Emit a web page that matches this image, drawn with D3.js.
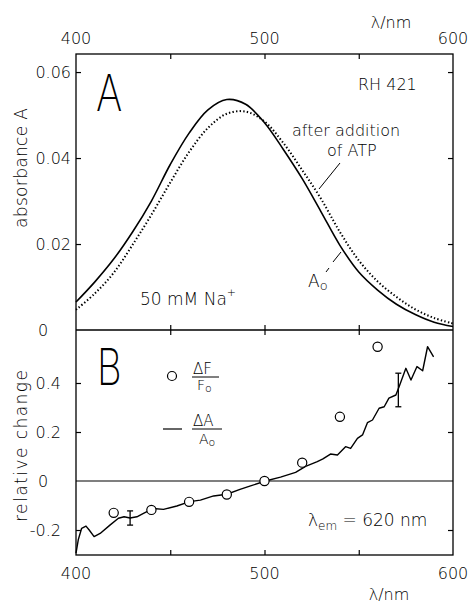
<!DOCTYPE html>
<html>
<head>
<script src="https://cdnjs.cloudflare.com/ajax/libs/d3/7.8.5/d3.min.js"></script>
<style>
  body { margin: 0; background: #fff; }
  svg text { font-family: "DejaVu Sans", sans-serif; font-weight: 300; fill: #000; }
  .letter { font-family: Inter, "DejaVu Sans", sans-serif; font-weight: 200; }
  .frame { stroke: #000; stroke-width: 1.3px; fill: none; }
  .tick line { stroke: #000; stroke-width: 1.2px; }
</style>
</head>
<body>
<div id="chart"></div>
<script>
// panel A: absorbance spectra
const lambdaA = [400, 410, 420, 430, 440, 450, 460, 470, 480, 490, 500,
                 510, 520, 530, 540, 550, 560, 570, 580, 590, 600];
const absSolid = [0.0065, 0.0112, 0.0165, 0.0228, 0.0300, 0.0385, 0.0458, 0.0512, 0.0536, 0.0525, 0.0482,
                  0.0420, 0.0352, 0.0275, 0.0197, 0.0135, 0.0093, 0.0060, 0.0036, 0.0018, 0.0008];
const absDotted = [0.0047, 0.0085, 0.0133, 0.0198, 0.0268, 0.0343, 0.0414, 0.0470, 0.0503, 0.0508, 0.0485,
                   0.0435, 0.0372, 0.0305, 0.0228, 0.0162, 0.0113, 0.0077, 0.0048, 0.0028, 0.0015];

// panel B: relative change
const dALambda = [400, 401.2, 403, 405.3, 407, 409.6, 412.8, 418, 422.5, 425.5, 428.7, 432.3, 435.8, 441,
                  446.4, 453.5, 460.3, 466, 473, 480, 487, 492.6, 500.5, 508.5, 516.5, 521.8, 528, 531,
                  535, 538.7, 543, 545.7, 549.3, 552, 554.6, 557.3, 560.8, 563.5, 566, 569.7, 571.4,
                  575, 577.7, 580.9, 583.9, 586.5, 589.7];
const dAValue = [-0.294, -0.24, -0.193, -0.184, -0.2, -0.227, -0.214, -0.18, -0.152, -0.146, -0.151, -0.146,
                 -0.132, -0.112, -0.116, -0.102, -0.084, -0.078, -0.061, -0.054, -0.034, -0.02, 0, 0.016,
                 0.035, 0.06, 0.079, 0.09, 0.11, 0.106, 0.14, 0.133, 0.174, 0.188, 0.238, 0.249, 0.297,
                 0.303, 0.338, 0.351, 0.385, 0.46, 0.412, 0.467, 0.45, 0.548, 0.507];
const fLambda = [420, 440, 460, 480, 500, 520, 540, 560];
const fValue = [-0.13, -0.118, -0.085, -0.055, 0, 0.075, 0.262, 0.548];
const errLambda = [428.7, 571];
const errLow = [-0.18, 0.303];
const errHigh = [-0.122, 0.44];

const xTicks = [400, 500, 600];
const xMinor = [450, 500, 550];
const aTicks = [0.02, 0.04, 0.06];
const aLabels = ["0", "0.02", "0.04", "0.06"];
const bTicks = [-0.2, 0.2, 0.4];
const bLabels = ["-0.2", "0", "0.2", "0.4"];

const W = 471, H = 605;
const svg = d3.select("#chart").append("svg").attr("width", W).attr("height", H);

const pLeft = 76, pRight = 453, pTop = 54, pMid = 330, pBottom = 555;
const x = d3.scaleLinear().domain([400, 600]).range([pLeft, pRight]);
const yA = d3.scaleLinear().domain([0, 0.0642]).range([pMid, pTop]);
const yB = d3.scaleLinear().domain([-0.302, 0.6163]).range([pBottom, pMid]);

// ticks (inward) via axes
function axis(gen, tr) {
  const g = svg.append("g").attr("transform", tr).call(gen);
  g.select(".domain").remove();
  return g;
}
axis(d3.axisLeft(yA).tickValues(aTicks).tickSize(-5).tickFormat(""), `translate(${pLeft},0)`);
axis(d3.axisRight(yA).tickValues(aTicks).tickSize(-5).tickFormat(""), `translate(${pRight},0)`);
axis(d3.axisLeft(yB).tickValues(bTicks).tickSize(-5).tickFormat(""), `translate(${pLeft},0)`);
axis(d3.axisRight(yB).tickValues(bTicks).tickSize(-5).tickFormat(""), `translate(${pRight},0)`);
axis(d3.axisTop(x).tickValues([450, 500, 550]).tickSize(-5).tickFormat(""), `translate(0,${pTop})`);
axis(d3.axisBottom(x).tickValues([450, 500, 550]).tickSize(-5).tickFormat(""), `translate(0,${pBottom})`);
axis(d3.axisBottom(x).tickValues(xMinor).tickSize(5).tickFormat(""), `translate(0,${pMid})`);
axis(d3.axisTop(x).tickValues(xMinor).tickSize(5).tickFormat(""), `translate(0,${pMid})`);

// frames
svg.append("rect").attr("class", "frame")
  .attr("x", pLeft).attr("y", pTop).attr("width", pRight - pLeft).attr("height", pBottom - pTop);
svg.append("line").attr("class", "frame")
  .attr("x1", pLeft).attr("x2", pRight).attr("y1", pMid).attr("y2", pMid);
svg.append("line").attr("stroke", "#000").attr("stroke-width", 1.1)
  .attr("x1", pLeft).attr("x2", pRight).attr("y1", yB(0)).attr("y2", yB(0));

// x labels
[pTop - 10, pBottom + 24].forEach(yy => {
  svg.selectAll(null).data(xTicks).enter().append("text")
    .attr("x", d => x(d)).attr("y", yy)
    .attr("text-anchor", "middle").attr("font-size", 16)
    .text(d => d);
});
svg.append("text").attr("x", 391).attr("y", 28).attr("text-anchor", "middle")
  .attr("font-size", 16).text("λ/nm");
svg.append("text").attr("x", 389).attr("y", 600).attr("text-anchor", "middle")
  .attr("font-size", 16).text("λ/nm");

// y labels
const aVals = [0, 0.02, 0.04, 0.06];
svg.selectAll(null).data(aVals).enter().append("text")
  .attr("x", d => d === 0 ? 38 : 71)
  .attr("y", d => yA(d) + 6)
  .attr("text-anchor", d => d === 0 ? "start" : "end")
  .attr("font-size", 16)
  .text((d, i) => aLabels[i]);
const bVals = [-0.2, 0, 0.2, 0.4];
svg.selectAll(null).data(bVals).enter().append("text")
  .attr("x", d => d === 0 ? 38 : 61)
  .attr("y", d => yB(d) + 6)
  .attr("text-anchor", d => d === 0 ? "start" : "end")
  .attr("font-size", 16)
  .text((d, i) => bLabels[i]);

svg.append("text").attr("transform", "translate(27,168) rotate(-90)")
  .attr("text-anchor", "middle").attr("font-size", 17)
  .attr("textLength", 120).attr("lengthAdjust", "spacing")
  .text("absorbance A");
svg.append("text").attr("transform", "translate(27,446) rotate(-90)")
  .attr("text-anchor", "middle").attr("font-size", 17)
  .attr("textLength", 152).attr("lengthAdjust", "spacing")
  .text("relative change");

// panel letters
svg.append("text").attr("class", "letter").attr("transform", "translate(96,111) scale(0.8,1)")
  .attr("font-size", 50).text("A");
svg.append("text").attr("class", "letter").attr("transform", "translate(97,385) scale(0.75,1)")
  .attr("font-size", 51).text("B");

// curves A
const lineA = d3.line().x((d, i) => x(lambdaA[i])).y(d => yA(d)).curve(d3.curveCatmullRom);
svg.append("path").datum(absSolid).attr("d", lineA)
  .attr("fill", "none").attr("stroke", "#000").attr("stroke-width", 1.6);
svg.append("path").datum(absDotted).attr("d", lineA)
  .attr("fill", "none").attr("stroke", "#000").attr("stroke-width", 2)
  .attr("stroke-dasharray", "1.4,2.2");

// annotations A
svg.append("text").attr("x", 358).attr("y", 90).attr("font-size", 16).text("RH 421");
svg.append("text").attr("x", 292).attr("y", 136).attr("font-size", 16).text("after addition");
svg.append("text").attr("x", 327).attr("y", 156).attr("font-size", 16).text("of ATP");
svg.append("line").attr("x1", 340).attr("y1", 163).attr("x2", 319).attr("y2", 189)
  .attr("stroke", "#000").attr("stroke-width", 1);
const ao = svg.append("text").attr("x", 308).attr("y", 287).attr("font-size", 17);
ao.append("tspan").text("A");
ao.append("tspan").attr("font-size", 13).attr("dy", 3).text("o");
svg.append("line").attr("x1", 326).attr("y1", 272).attr("x2", 329).attr("y2", 268)
  .attr("stroke", "#000").attr("stroke-width", 1);
svg.append("line").attr("x1", 333).attr("y1", 262).attr("x2", 341).attr("y2", 252)
  .attr("stroke", "#000").attr("stroke-width", 1);
const na = svg.append("text").attr("x", 140).attr("y", 305).attr("font-size", 17);
na.append("tspan").text("50 mM  Na");
na.append("tspan").attr("font-size", 11).attr("dy", -9).text("+");

// panel B: line
const lineB = d3.line().x((d, i) => x(dALambda[i])).y(d => yB(d));
svg.append("path").datum(dAValue).attr("d", lineB)
  .attr("fill", "none").attr("stroke", "#000").attr("stroke-width", 1.4)
  .attr("stroke-linejoin", "round");

// error bars
errLambda.forEach((l, i) => {
  const g = svg.append("g").attr("stroke", "#000").attr("stroke-width", 1.3);
  g.append("line").attr("x1", x(l)).attr("x2", x(l)).attr("y1", yB(errLow[i])).attr("y2", yB(errHigh[i]));
  [errLow[i], errHigh[i]].forEach(v => g.append("line")
    .attr("x1", x(l) - 3).attr("x2", x(l) + 3).attr("y1", yB(v)).attr("y2", yB(v)));
});

// circles
svg.selectAll(null).data(fValue).enter().append("circle")
  .attr("cx", (d, i) => x(fLambda[i])).attr("cy", d => yB(d)).attr("r", 4.6)
  .attr("fill", "#fff").attr("stroke", "#000").attr("stroke-width", 1.2);

// legend B
svg.append("circle").attr("cx", 172).attr("cy", 376).attr("r", 4.5)
  .attr("fill", "#fff").attr("stroke", "#000").attr("stroke-width", 1.2);
svg.append("text").attr("x", 193).attr("y", 374).attr("font-size", 15).text("ΔF");
svg.append("line").attr("x1", 192).attr("x2", 219).attr("y1", 377).attr("y2", 377)
  .attr("stroke", "#000").attr("stroke-width", 1);
const fo = svg.append("text").attr("x", 197).attr("y", 390).attr("font-size", 14);
fo.append("tspan").text("F");
fo.append("tspan").attr("font-size", 11).attr("dy", 2).text("o");

svg.append("line").attr("x1", 163).attr("x2", 182).attr("y1", 429).attr("y2", 429)
  .attr("stroke", "#000").attr("stroke-width", 1.2);
svg.append("text").attr("x", 193).attr("y", 426).attr("font-size", 15).text("ΔA");
svg.append("line").attr("x1", 192).attr("x2", 222).attr("y1", 429).attr("y2", 429)
  .attr("stroke", "#000").attr("stroke-width", 1);
const aoB = svg.append("text").attr("x", 199).attr("y", 444).attr("font-size", 14);
aoB.append("tspan").text("A");
aoB.append("tspan").attr("font-size", 11).attr("dy", 2).text("o");

const lem = svg.append("text").attr("x", 308).attr("y", 526).attr("font-size", 17);
lem.append("tspan").text("λ");
lem.append("tspan").attr("font-size", 12).attr("dy", 4).text("em");
lem.append("tspan").attr("dy", -4).text(" = 620 nm");
</script>
</body>
</html>
